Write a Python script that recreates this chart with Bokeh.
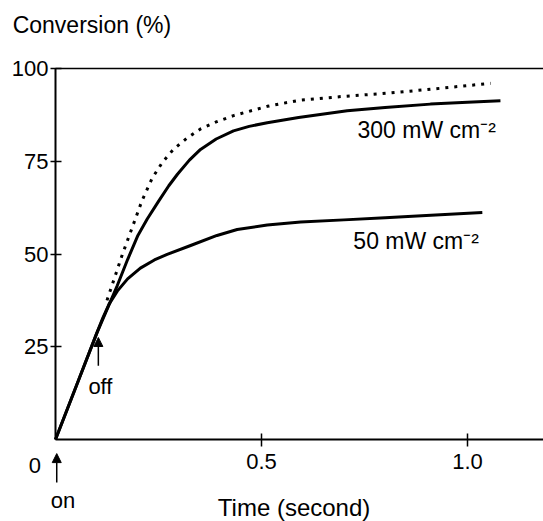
from bokeh.plotting import figure
from bokeh.models import (Range1d, FixedTicker, PrintfTickFormatter, Label, Arrow,
                          NormalHead, LinearAxis)
from bokeh.embed import file_html
from bokeh.resources import INLINE

FONT = "Liberation Sans"

# Data
t_300 = [0.0, 0.05, 0.10, 0.15, 0.175, 0.20, 0.223, 0.25, 0.275, 0.296, 0.325, 0.352, 0.39,
         0.432, 0.47, 0.514, 0.59, 0.708, 0.80, 0.91, 1.0, 1.08]
conv_300 = [0.0, 14.3, 28.6, 41.5, 48.5, 55.0, 59.5, 64.2, 68.4, 71.5, 75.3, 78.2, 81.0,
            83.2, 84.4, 85.4, 86.8, 88.6, 89.5, 90.4, 90.9, 91.3]

t_dark = [0.125, 0.162, 0.194, 0.21, 0.235, 0.26, 0.287, 0.32, 0.352, 0.39, 0.432, 0.514,
          0.59, 0.70, 0.789, 0.90, 1.056]
conv_dark = [37.5, 49.8, 59.5, 64.4, 70.5, 74.8, 78.3, 81.3, 83.7, 85.6, 87.3, 89.8,
             91.4, 92.5, 93.2, 94.3, 96.0]

t_50 = [0.0, 0.05, 0.10, 0.115, 0.13, 0.15, 0.175, 0.206, 0.24, 0.271, 0.328, 0.392, 0.441,
        0.514, 0.595, 0.70, 0.80, 0.90, 1.036]
conv_50 = [0.0, 14.3, 28.6, 32.8, 36.5, 40.0, 43.3, 46.2, 48.4, 49.9, 52.3, 55.0, 56.6,
           57.8, 58.6, 59.2, 59.8, 60.4, 61.2]

y_ticks = [25, 50, 75, 100]
x_ticks = [0.5, 1.0]

# frame covers the whole canvas; axes are pinned at data 0 with fixed_location
X0, X1 = -0.1335, 1.1845
Y0, Y1 = -22.1, 118.33

p = figure(width=543, height=521, output_backend="svg", toolbar_location=None,
           x_range=Range1d(X0, X1), y_range=Range1d(Y0, Y1), min_border=0)
p.outline_line_color = None
p.grid.visible = False

for ax in (p.xaxis[0], p.yaxis[0]):
    ax.axis_line_width = 2
    ax.axis_line_color = "black"
    ax.major_tick_line_width = 1.5
    ax.major_tick_line_color = "black"
    ax.minor_tick_line_color = None
    ax.major_label_text_font = FONT
    ax.major_label_text_font_size = "22px"
    ax.major_label_text_color = "black"
    ax.fixed_location = 0

p.yaxis.ticker = FixedTicker(ticks=y_ticks)
p.yaxis.bounds = (0, 100)
p.yaxis.major_tick_in = 6
p.yaxis.major_tick_out = 5
p.yaxis.major_label_standoff = 2

p.xaxis.ticker = FixedTicker(ticks=x_ticks)
p.xaxis.bounds = (0, X1)
p.xaxis.formatter = PrintfTickFormatter(format="%.1f")
p.xaxis.major_tick_in = 6
p.xaxis.major_tick_out = 7
p.xaxis.major_label_standoff = 7

top = LinearAxis(ticker=FixedTicker(ticks=[]), axis_line_width=1.5, fixed_location=100,
                 bounds=(0, X1), major_label_text_font_size="0px",
                 minor_tick_line_color=None, major_tick_line_color=None)
p.add_layout(top, "above")

p.line(t_dark, conv_dark, line_color="black", line_width=3, line_dash="3 6")
p.line(t_300, conv_300, line_color="black", line_width=3, line_join="round")
p.line(t_50, conv_50, line_color="black", line_width=3, line_join="round")

def lab(text, x, y, align="left", size="22px"):
    p.add_layout(Label(x=x, y=y, text=text, text_align=align, text_baseline="middle",
                       text_font=FONT, text_font_size=size, text_color="black"))

lab("300 mW cm\u207b\u00b2", 0.733, 83.3, size="23px")
lab("50 mW cm\u207b\u00b2", 0.723, 53.6, size="23px")
lab("Conversion (%)", -0.104, 111.6, size="23px")
lab("Time (second)", 0.579, -18.3, align="center", size="24px")
lab("0", -0.0498, -7.0, align="center")
lab("on", 0.018, -16.4, align="center")
lab("off", 0.109, 14.3, align="center")

p.add_layout(Arrow(end=NormalHead(size=9, fill_color="black", line_color="black"),
                   x_start=0.003, y_start=-11.6, x_end=0.003, y_end=-3.8,
                   line_width=1.5, line_color="black"))
p.add_layout(Arrow(end=NormalHead(size=9, fill_color="black", line_color="black"),
                   x_start=0.104, y_start=19.9, x_end=0.104, y_end=27.5,
                   line_width=1.5, line_color="black"))

open("out.html", "w").write(file_html(p, INLINE))
